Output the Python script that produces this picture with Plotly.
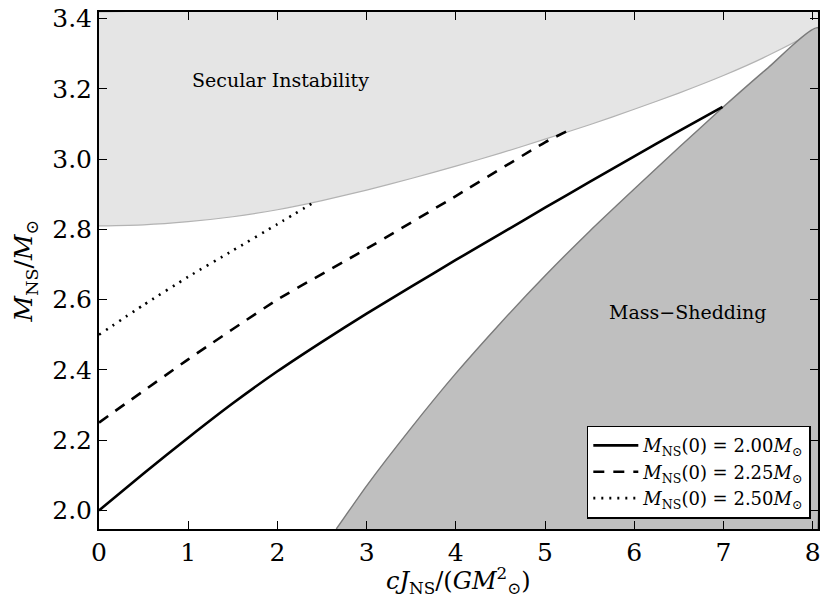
import plotly.graph_objects as go

# axis limits
x_lim = [0, 8.06]
y_lim = [1.947, 3.419]

# secular instability boundary (upper region)
sec_x = [0, 0.5, 1, 1.5, 2, 2.5, 3, 3.5, 4, 4.5, 5, 5.5, 6, 6.5, 7, 7.5, 8.06]
sec_y = [2.81, 2.813, 2.822, 2.836, 2.856, 2.882, 2.912, 2.945, 2.98, 3.017, 3.057, 3.098, 3.142, 3.188, 3.238, 3.295, 3.374]

# mass-shedding boundary (lower right region)
ms_x = [2.66, 3.0, 3.5, 4.0, 4.5, 5.0, 5.5, 6.0, 6.5, 7.0, 7.5, 8.06]
ms_y = [1.947, 2.07, 2.235, 2.39, 2.533, 2.668, 2.795, 2.915, 3.033, 3.149, 3.26, 3.374]

# sequences for different M_NS(0)
m200_x = [0, 0.5, 1, 1.5, 2, 2.5, 3, 3.5, 4, 4.5, 5, 5.5, 6, 6.5, 6.99]
m200_y = [2.0, 2.105, 2.207, 2.305, 2.396, 2.48, 2.56, 2.637, 2.713, 2.787, 2.862, 2.935, 3.008, 3.08, 3.149]

m225_x = [0, 1, 2, 3, 4, 5, 5.28]
m225_y = [2.25, 2.43, 2.60, 2.745, 2.895, 3.048, 3.084]

m250_x = [0, 0.5, 1, 1.5, 2, 2.44]
m250_y = [2.5, 2.585, 2.665, 2.74, 2.815, 2.882]

x_ticks = [0, 1, 2, 3, 4, 5, 6, 7, 8]
y_ticks = [2.0, 2.2, 2.4, 2.6, 2.8, 3.0, 3.2, 3.4]

FONT = "DejaVu Serif"
MSUN = "<i>M</i><sub>⊙</sub>"

fig = go.Figure()

# shaded regions
fig.add_trace(go.Scatter(
    x=sec_x + [x_lim[1], x_lim[0]],
    y=sec_y + [y_lim[1], y_lim[1]],
    fill='toself', fillcolor='#e5e5e5',
    mode='lines', line=dict(color='#b3b3b3', width=1.2, shape='spline', smoothing=0.5),
    showlegend=False, hoverinfo='skip'
))
fig.add_trace(go.Scatter(
    x=ms_x + [x_lim[1]],
    y=ms_y + [y_lim[0]],
    fill='toself', fillcolor='#bfbfbf',
    mode='lines', line=dict(color='#7a7a7a', width=1.4, shape='spline', smoothing=0.5),
    showlegend=False, hoverinfo='skip'
))

curves = [
    (m200_x, m200_y, 'solid', '2.00'),
    (m225_x, m225_y, '11px,9px', '2.25'),
    (m250_x, m250_y, '2px,6px', '2.50'),
]
for xs, ys, dash, lab in curves:
    fig.add_trace(go.Scatter(
        x=xs, y=ys, mode='lines',
        line=dict(color='black', width=2.6, dash=dash, shape='spline', smoothing=0.5),
        name=f"<i>M</i><sub>NS</sub>(0) = {lab}{MSUN}"
    ))

fig.add_annotation(x=2.03, y=3.224, text="Secular Instability", showarrow=False,
                   font=dict(family=FONT, size=19, color='black'))
fig.add_annotation(x=6.6, y=2.566, text="Mass−Shedding", showarrow=False,
                   font=dict(family=FONT, size=19, color='black'))

# axis titles placed as annotations so the plot area stays fixed
fig.add_annotation(xref='paper', yref='paper', x=0.5, y=-0.099, yanchor='middle',
                   text="<i>cJ</i><sub>NS</sub>/(<i>GM</i><sup>2</sup><sub>⊙</sub>)",
                   showarrow=False, font=dict(family=FONT, size=24, color='black'))
fig.add_annotation(xref='paper', yref='paper', x=-0.103, y=0.5, xanchor='center',
                   text="<i>M</i><sub>NS</sub>/" + MSUN, textangle=-90,
                   showarrow=False, font=dict(family=FONT, size=25, color='black'))

axis_common = dict(
    showgrid=False, zeroline=False, automargin=False,
    showline=True, linecolor='black', linewidth=2, mirror='ticks',
    ticks='inside', ticklen=8, tickwidth=1, tickcolor='black',
    ticklabeloverflow='allow',
    tickfont=dict(family=FONT, size=25, color='black'),
)

fig.update_xaxes(range=x_lim, tickvals=x_ticks, **axis_common)
fig.update_yaxes(range=y_lim, tickvals=y_ticks, tickformat='.1f', **axis_common)

# page body adds ~8px offset, so margins are shifted by that amount
fig.update_layout(
    width=830, height=609,
    margin=dict(l=91, r=20, t=4, b=88),
    plot_bgcolor='white', paper_bgcolor='white',
    legend=dict(x=0.99, y=0.02, xanchor='right', yanchor='bottom',
                bgcolor='white', bordercolor='black', borderwidth=1.5,
                font=dict(family=FONT, size=18, color='black'),
                tracegroupgap=0, itemwidth=45),
)

fig.write_html("out.html")
